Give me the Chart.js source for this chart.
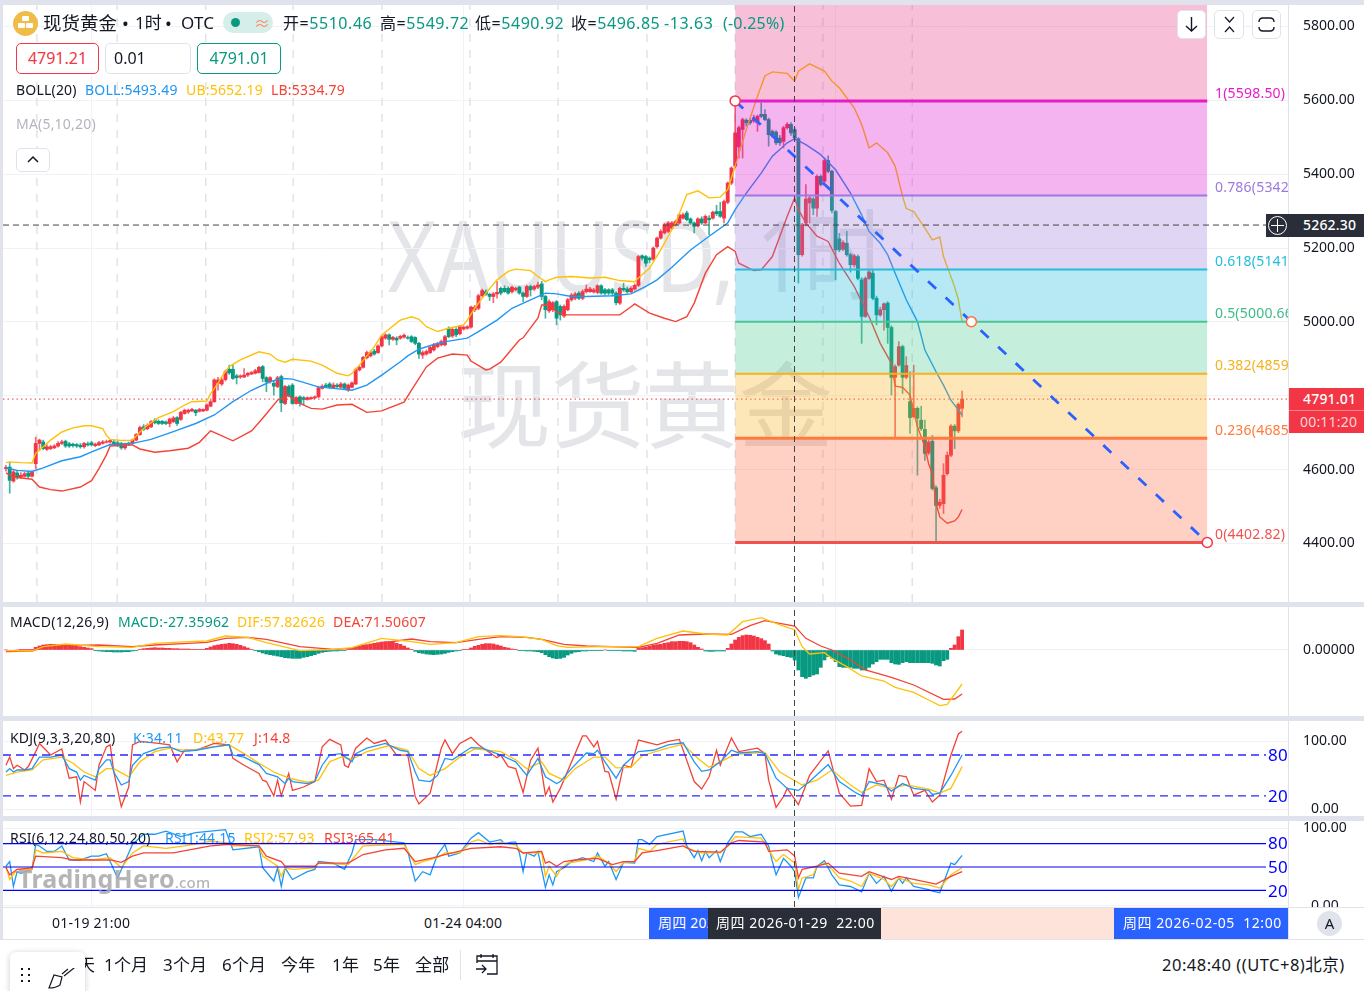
<!DOCTYPE html>
<html>
<head>
<meta charset="utf-8">
<script src="https://cdn.jsdelivr.net/npm/chart.js@4/dist/chart.umd.js"></script>
<style>
html, body { margin: 0; padding: 0; background: #fff; width: 1364px; height: 991px; overflow: hidden; font-family: "Noto Sans", "Noto Sans CJK SC", sans-serif; color: #131722; }
canvas { position: absolute; left: 0; z-index: 2; }
.t { position: absolute; white-space: nowrap; line-height: 20px; font-size: 14px; letter-spacing: .2px; z-index: 3; }
.h { font-size: 16px; letter-spacing: .55px; top: 13px; }
.bar { position: absolute; background: #E0E3EB; z-index: 1; }
.box { position: absolute; box-sizing: border-box; z-index: 3; }
.wm { position: absolute; white-space: nowrap; color: #E4E5E9; z-index: 0; line-height: 1; }
.btn { position: absolute; box-sizing: border-box; background: #fff; border: 1px solid #E0E3EB; border-radius: 5px; z-index: 3; }
.fib { width: 73px; overflow: hidden; }
</style>
</head>
<body>
<!-- watermarks sit under the transparent canvases -->
<div class="wm" style="left:388px;top:204px;font-size:99px;transform:scaleX(.835);transform-origin:left top;">XAUUSD, 1时</div>
<div class="wm" style="left:457px;top:358px;font-size:94px;">现货黄金</div>

<div class="bar" style="left:0;top:0;width:1364px;height:5px;"></div>
<div class="bar" style="left:0;top:0;width:3px;height:940px;"></div>
<div class="bar" style="left:0;top:602px;width:1364px;height:5px;"></div>
<div class="bar" style="left:0;top:716px;width:1364px;height:5px;"></div>
<div class="bar" style="left:0;top:816px;width:1364px;height:5px;"></div>
<div class="bar" style="left:0;top:939px;width:1364px;height:1px;"></div>

<canvas id="mainChart" width="1364" height="597" style="top:5px"></canvas>
<canvas id="macdChart" width="1364" height="109" style="top:607px"></canvas>
<canvas id="kdjChart" width="1364" height="95" style="top:721px"></canvas>
<canvas id="rsiChart" width="1364" height="86" style="top:821px"></canvas>

<!-- header -->
<div class="box" style="left:13px;top:11px;width:25px;height:25px;border-radius:50%;background:#F0BC48;"></div>
<div class="box" style="left:22px;top:16px;width:7px;height:5px;background:#fff;border-radius:1px;"></div>
<div class="box" style="left:18px;top:23px;width:7px;height:5px;background:#fff;border-radius:1px;"></div>
<div class="box" style="left:26px;top:23px;width:7px;height:5px;background:#fff;border-radius:1px;"></div>
<div class="t" style="left:43px;top:13px;font-size:18.5px;letter-spacing:0;">现货黄金</div>
<div class="t" style="left:122px;top:13px;font-size:18px;">•</div>
<div class="t" style="left:135px;top:13px;font-size:17px;letter-spacing:0;">1时</div>
<div class="t" style="left:165px;top:13px;font-size:18px;">•</div>
<div class="t" style="left:181px;top:13px;font-size:17px;">OTC</div>
<div class="box" style="left:223px;top:12px;width:50px;height:21px;border-radius:11px;background:#D6EEE9;"></div>
<div class="box" style="left:231px;top:18px;width:9px;height:9px;border-radius:50%;background:#089981;"></div>
<div class="t" style="left:254px;top:13px;font-size:16px;color:#FF8A65;">≈</div>
<div class="t h" style="left:283px;">开=<span style="color:#089981">5510.46</span></div>
<div class="t h" style="left:380px;">高=<span style="color:#089981">5549.72</span></div>
<div class="t h" style="left:475px;">低=<span style="color:#089981">5490.92</span></div>
<div class="t h" style="left:571px;">收=<span style="color:#089981">5496.85</span></div>
<div class="t h" style="left:664px;color:#089981;">-13.63</div>
<div class="t h" style="left:723px;color:#089981;letter-spacing:.2px;">(-0.25%)</div>

<div class="btn" style="left:16px;top:43px;width:83px;height:31px;border-color:#F23645;text-align:center;line-height:29px;font-size:16px;color:#F23645;">4791.21</div>
<div class="btn" style="left:105px;top:43px;width:86px;height:31px;padding-left:8px;line-height:29px;font-size:16px;">0.01</div>
<div class="btn" style="left:197px;top:43px;width:84px;height:31px;border-color:#089981;text-align:center;line-height:29px;font-size:16px;color:#089981;">4791.01</div>

<div class="t" style="left:16px;top:80px;">BOLL(20)</div>
<div class="t" style="left:85px;top:80px;color:#2196F3;">BOLL:5493.49</div>
<div class="t" style="left:186px;top:80px;color:#FFC107;">UB:5652.19</div>
<div class="t" style="left:271px;top:80px;color:#F44336;">LB:5334.79</div>
<div class="t" style="left:16px;top:114px;color:#B2B5BE;">MA(5,10,20)</div>
<div class="btn" style="left:16px;top:148px;width:34px;height:24px;"></div>
<svg class="box" style="left:27px;top:155px;" width="12" height="9"><path d="M1 7 L6 2 L11 7" fill="none" stroke="#131722" stroke-width="1.5"/></svg>

<div class="btn" style="left:1177px;top:10px;width:29px;height:29px;"></div>
<svg class="box" style="left:1184px;top:16px;" width="15" height="17"><path d="M7.5 1 V15 M2 10 L7.5 15 L13 10" fill="none" stroke="#131722" stroke-width="1.4"/></svg>
<div class="btn" style="left:1214px;top:10px;width:30px;height:29px;"></div>
<svg class="box" style="left:1222px;top:16px;" width="15" height="17"><path d="M3 1 L7.5 6 L12 1 M3 16 L7.5 11 L12 16" fill="none" stroke="#131722" stroke-width="1.2"/></svg>
<div class="btn" style="left:1252px;top:10px;width:29px;height:29px;"></div>
<svg class="box" style="left:1258px;top:17px;" width="17" height="15"><path d="M1 5 Q1 1 5 1 H12 Q16 1 16 5 M1 10 Q1 14 5 14 H12 Q16 14 16 10" fill="none" stroke="#131722" stroke-width="1.4"/></svg>

<!-- fibonacci labels -->
<div class="t fib" style="left:1215px;top:83px;color:#E61CC8;">1(5598.50)</div>
<div class="t fib" style="left:1215px;top:177px;color:#9C78E0;">0.786(5342.62)</div>
<div class="t fib" style="left:1215px;top:251px;color:#22BEDC;">0.618(5141.87)</div>
<div class="t fib" style="left:1215px;top:303px;color:#3DBB8A;">0.5(5000.66)</div>
<div class="t fib" style="left:1215px;top:355px;color:#F5B21E;">0.382(4859.56)</div>
<div class="t fib" style="left:1215px;top:420px;color:#FF7A3C;">0.236(4685.00)</div>
<div class="t fib" style="left:1215px;top:524px;color:#EF5350;">0(4402.82)</div>

<!-- price tags -->
<div class="box" style="left:1266px;top:214px;width:98px;height:23px;background:#2A2E39;"></div>
<div class="box" style="left:1268px;top:216px;width:19px;height:19px;border:1px solid #fff;border-radius:50%;"></div>
<svg class="box" style="left:1271px;top:219px;" width="13" height="13"><path d="M0 6.5 H13 M6.5 0 V13" stroke="#fff" stroke-width="1"/></svg>
<div class="t" style="left:1303px;top:215px;color:#fff;font-weight:500;">5262.30</div>
<div class="box" style="left:1289px;top:388px;width:75px;height:45px;background:#F23645;"></div>
<div class="box" style="left:1289px;top:410px;width:75px;height:1px;background:#F8838D;"></div>
<div class="t" style="left:1303px;top:389px;color:#fff;font-weight:500;">4791.01</div>
<div class="t" style="left:1300px;top:412px;color:#FBD5D8;">00:11:20</div>

<!-- indicator titles -->
<div class="t" style="left:10px;top:612px;">MACD(12,26,9)</div>
<div class="t" style="left:118px;top:612px;color:#089981;">MACD:-27.35962</div>
<div class="t" style="left:237px;top:612px;color:#FFC107;">DIF:57.82626</div>
<div class="t" style="left:333px;top:612px;color:#F44336;">DEA:71.50607</div>
<div class="t" style="left:10px;top:728px;">KDJ(9,3,3,20,80)</div>
<div class="t" style="left:133px;top:728px;color:#2196F3;">K:34.11</div>
<div class="t" style="left:193px;top:728px;color:#FFC107;">D:43.77</div>
<div class="t" style="left:254px;top:728px;color:#F44336;">J:14.8</div>
<div class="t" style="left:10px;top:828px;">RSI(6,12,24,80,50,20)</div>
<div class="t" style="left:165px;top:828px;color:#2196F3;">RSI1:44.15</div>
<div class="t" style="left:244px;top:828px;color:#FFC107;">RSI2:57.93</div>
<div class="t" style="left:324px;top:828px;color:#F44336;">RSI3:65.41</div>

<div class="t" style="left:1268px;top:745px;font-size:17px;color:#0000FF;">80</div>
<div class="t" style="left:1268px;top:786px;font-size:17px;color:#0000FF;">20</div>
<div class="t" style="left:1268px;top:833px;font-size:17px;color:#0000FF;">80</div>
<div class="t" style="left:1268px;top:857px;font-size:17px;color:#0000FF;">50</div>
<div class="t" style="left:1268px;top:881px;font-size:17px;color:#0000FF;">20</div>

<div class="t" style="left:18px;top:868px;font-size:25px;font-weight:700;color:#A8A8A8;opacity:.85;">TradingHero<span style="font-size:15px;font-weight:500;">.com</span></div>

<!-- time strip -->
<div class="box" style="left:0;top:907px;width:1364px;height:32px;background:#fff;border-top:1px solid #E0E3EB;z-index:2;"></div>
<div class="box" style="left:0;top:907px;width:3px;height:32px;background:#E0E3EB;"></div>
<div class="box" style="left:1288px;top:907px;width:1px;height:32px;background:#E0E3EB;"></div>
<div id="timeLabels"></div>
<div class="box" style="left:649px;top:908px;width:60px;height:31px;background:#2962FF;overflow:hidden;"><div class="t" style="left:9px;top:5px;color:#fff;">周四 2026-01-23  12:00</div></div>
<div class="box" style="left:881px;top:908px;width:233px;height:31px;background:#FDE3DA;"></div>
<div class="box" style="left:1114px;top:908px;width:174px;height:31px;background:#2962FF;"><div class="t" style="left:9px;top:5px;color:#fff;white-space:pre;letter-spacing:.55px;">周四 2026-02-05  12:00</div></div>
<div class="box" style="left:708px;top:908px;width:173px;height:31px;background:#2A2E39;"><div class="t" style="left:8px;top:5px;color:#fff;white-space:pre;letter-spacing:.55px;">周四 2026-01-29  22:00</div></div>
<div class="box" style="left:1317px;top:911px;width:25px;height:25px;border-radius:50%;background:#E0E3EB;text-align:center;line-height:25px;font-size:15px;">A</div>

<!-- bottom toolbar -->
<div class="t" style="left:78px;top:955px;font-size:17px;">天</div>
<div class="t" style="left:104px;top:955px;font-size:17px;">1个月</div>
<div class="t" style="left:163px;top:955px;font-size:17px;">3个月</div>
<div class="t" style="left:222px;top:955px;font-size:17px;">6个月</div>
<div class="t" style="left:281px;top:955px;font-size:17px;">今年</div>
<div class="t" style="left:332px;top:955px;font-size:17px;">1年</div>
<div class="t" style="left:373px;top:955px;font-size:17px;">5年</div>
<div class="t" style="left:415px;top:955px;font-size:17px;">全部</div>
<div class="box" style="left:460px;top:950px;width:1px;height:30px;background:#E0E3EB;"></div>
<svg class="box" style="left:475px;top:953px;" width="26" height="24"><path d="M6 1 V5 M18 1 V5 M2 10 V3 H22 V21 H12 M2 8 H22 M1 16 H11 M7 12 L11 16 L7 20" fill="none" stroke="#131722" stroke-width="1.3"/></svg>
<div class="t" style="left:1162px;top:955px;font-size:16.5px;letter-spacing:.5px;">20:48:40 ((UTC+8)北京)</div>
<div class="box" style="left:10px;top:952px;width:75px;height:45px;background:#fff;border-radius:6px;box-shadow:0 1px 6px rgba(0,0,0,.2);"></div>
<svg class="box" style="left:18px;top:968px;z-index:4;" width="62" height="23"><path d="M3 1 h2 M10 1 h2 M3 7 h2 M10 7 h2 M3 13 h2 M10 13 h2" stroke="#131722" stroke-width="2"/><path d="M31 20 L36 7 L44 9 L42 17 Q38 20 31 20 Z M44 6 L50 1 M46 8 L61 -4" fill="none" stroke="#131722" stroke-width="1.2"/></svg>

<script>
// candle values, one per bar, bar 1 is the left-most one
const opens = [4603,4607,4569,4591,4580,4582,4591,4582,4616,4671,4675,4655,4657,4659,4664,4671,4677,4670,4669,4668,4666,4662,4670,4673,4665,4667,4671,4674,4675,4675,
  4673,4671,4659,4672,4671,4680,4695,4716,4711,4716,4734,4731,4731,4729,4725,4730,4741,4736,4752,4756,4759,4761,4758,4759,4761,4772,4784,4834,4832,4844,
  4872,4872,4854,4851,4851,4856,4859,4861,4863,4879,4849,4838,4834,4825,4852,4779,4825,4829,4779,4797,4795,4790,4792,4794,4797,4820,4829,4832,4822,4829,
  4823,4832,4815,4823,4832,4870,4877,4903,4908,4921,4917,4935,4956,4965,4953,4956,4956,4959,4958,4960,4958,4942,4910,4913,4917,4924,4933,4938,4938,4983,
  4962,4980,4968,4981,4983,4986,5033,5037,5071,5082,5075,5069,5076,5091,5091,5091,5082,5087,5094,5078,5069,5096,5089,5094,5103,5069,5030,5033,5055,5042,
  5016,5033,5060,5064,5078,5064,5082,5082,5081,5080,5098,5087,5087,5087,5078,5051,5091,5089,5082,5089,5099,5179,5177,5173,5170,5204,5227,5241,5245,5254,
  5263,5268,5281,5295,5279,5268,5260,5279,5268,5281,5281,5299,5299,5281,5324,5376,5422,5474,5521,5546,5546,5544,5539,5562,5562,5548,5516,5514,5498,5489,
  5526,5535,5521,5496,5182,5268,5322,5333,5308,5394,5381,5437,5408,5299,5225,5197,5213,5182,5155,5177,5114,5015,5118,5132,5064,5019,5033,5051,4985,4850,
  4883,4933,4850,4784,4743,4766,4734,4709,4645,4677,4551,4503,4508,4589,4639,4718,4705,4766];
const highs = [4612,4620,4598,4597,4592,4593,4596,4597,4688,4683,4680,4668,4666,4668,4676,4680,4680,4674,4672,4671,4671,4674,4675,4677,4672,4677,4679,4680,4681,4680,
  4677,4674,4672,4675,4683,4698,4718,4722,4724,4733,4738,4735,4733,4732,4740,4744,4744,4758,4764,4764,4766,4763,4766,4765,4778,4788,4846,4850,4848,4870,
  4883,4885,4858,4857,4874,4863,4866,4872,4880,4882,4852,4852,4840,4853,4856,4828,4829,4833,4798,4800,4798,4797,4797,4800,4826,4830,4834,4836,4835,4833,
  4836,4835,4832,4838,4875,4881,4907,4921,4922,4926,4938,4964,4968,4968,4961,4960,4964,4968,4962,4963,4960,4945,4922,4924,4935,4942,4945,4951,4964,4987,
  4984,4985,4990,4989,4990,5043,5045,5075,5089,5087,5078,5080,5110,5095,5098,5095,5097,5094,5097,5081,5099,5100,5099,5108,5110,5072,5060,5055,5058,5046,
  5046,5064,5078,5080,5082,5087,5100,5094,5091,5101,5101,5091,5090,5091,5082,5094,5105,5094,5095,5103,5180,5182,5180,5176,5203,5230,5250,5267,5272,5272,
  5276,5293,5295,5300,5282,5271,5282,5285,5290,5288,5300,5316,5324,5330,5379,5420,5593,5530,5552,5550,5552,5560,5560,5593,5575,5552,5520,5518,5505,5530,
  5540,5540,5526,5499,5267,5372,5340,5337,5398,5398,5444,5450,5411,5302,5240,5220,5245,5186,5183,5181,5120,5122,5140,5140,5070,5040,5052,5055,4990,4884,
  4947,4937,4906,4865,4883,4770,4772,4734,4680,4693,4556,4520,4616,4648,4722,4722,4781,4813];
const lows = [4596,4536,4566,4574,4576,4580,4578,4580,4602,4652,4654,4652,4654,4657,4661,4668,4660,4660,4661,4660,4658,4658,4664,4664,4662,4665,4669,4672,4672,4666,
  4662,4655,4655,4665,4669,4678,4693,4706,4708,4714,4724,4722,4722,4722,4716,4727,4720,4733,4750,4752,4757,4746,4756,4757,4759,4770,4782,4815,4828,4840,
  4858,4844,4832,4847,4849,4852,4857,4859,4861,4838,4811,4834,4802,4822,4757,4776,4797,4777,4777,4772,4775,4788,4790,4792,4795,4818,4822,4820,4820,4822,
  4820,4817,4812,4821,4830,4867,4875,4900,4905,4910,4915,4932,4953,4938,4950,4938,4953,4956,4953,4944,4938,4901,4901,4910,4914,4921,4930,4935,4935,4957,
  4958,4960,4965,4978,4980,4983,5028,5033,5068,5072,5058,5052,5064,5073,5080,5075,5078,5084,5075,5055,5066,5070,5085,5090,5060,5010,5026,5028,4992,5005,
  5012,5030,5056,5060,5060,5060,5078,5080,5078,5076,5075,5074,5074,5070,5046,5047,5083,5078,5079,5086,5096,5168,5150,5160,5166,5200,5224,5238,5242,5250,
  5260,5265,5278,5274,5264,5241,5257,5264,5265,5236,5278,5288,5283,5268,5320,5372,5418,5444,5444,5530,5535,5540,5516,5553,5545,5476,5500,5480,5478,5471,
  5522,5505,5490,5105,5178,5260,5268,5290,5286,5368,5378,5404,5295,5114,5190,5193,5178,5135,5150,5114,4942,5012,5115,5060,4992,5015,4978,4942,4802,4688,
  4880,4806,4846,4698,4740,4585,4706,4625,4640,4545,4404,4495,4481,4585,4635,4657,4700,4743];
const closes = [4606,4571,4594,4578,4585,4589,4582,4594,4671,4680,4657,4662,4662,4664,4671,4675,4664,4664,4665,4664,4662,4671,4667,4667,4669,4673,4675,4676,4679,4669,
  4665,4659,4668,4668,4680,4695,4714,4709,4720,4730,4727,4725,4725,4725,4737,4740,4725,4755,4761,4761,4763,4754,4763,4763,4775,4784,4843,4843,4843,4865,
  4862,4847,4849,4854,4856,4861,4863,4868,4877,4847,4838,4849,4826,4849,4781,4825,4800,4779,4795,4779,4790,4795,4795,4797,4822,4826,4825,4823,4829,4825,
  4832,4820,4829,4835,4871,4877,4904,4917,4917,4913,4935,4960,4965,4953,4958,4951,4961,4964,4956,4947,4942,4913,4917,4920,4931,4938,4942,4947,4960,4960,
  4980,4965,4987,4986,4987,5040,5040,5071,5085,5075,5069,5076,5080,5078,5082,5078,5094,5091,5078,5069,5096,5087,5096,5100,5069,5033,5055,5052,5010,5019,
  5042,5060,5073,5076,5064,5082,5089,5089,5087,5098,5078,5078,5078,5078,5052,5091,5087,5082,5091,5099,5177,5173,5159,5168,5200,5227,5245,5263,5268,5268,
  5272,5290,5290,5277,5268,5259,5279,5268,5286,5277,5297,5293,5286,5326,5376,5417,5512,5526,5548,5539,5539,5550,5557,5557,5548,5507,5507,5485,5485,5526,
  5535,5512,5498,5182,5263,5333,5336,5308,5394,5372,5437,5408,5302,5195,5195,5215,5182,5155,5179,5118,5015,5118,5135,5064,5019,5033,5049,4985,4850,4879,
  4933,4850,4882,4741,4766,4739,4711,4644,4675,4549,4503,4512,4585,4639,4718,4705,4777,4791.01];

// BOLL bands, read at the bends of each curve
const ubIdx = [1,2,5,8,9,11,13,16,19,22,24,27,28,29,32,35,37,39,42,46,49,51,55,56,58,59,61,64,69,72,74,76,78,83,86,90,93,94,96,100,102,107,110,112,114,117,120,124,125,127,130,133,136,138,142,144,146,147,149,153,158,162,166,170,171,174,177,179,181,184,187,190,193,195,197,200,203,205,207,211,213,214,217,221,223,225,229,231,233,235,238,240,242,243,245,248,250,252,253,256,257,258];
const ubVal = [4619,4621,4619,4618,4644,4662,4680,4702,4713,4719,4719,4711,4693,4682,4679,4680,4702,4720,4741,4757,4775,4784,4786,4806,4834,4852,4879,4897,4919,4913,4897,4891,4899,4894,4883,4861,4854,4861,4883,4933,4965,5005,5014,5007,4987,4974,4983,4992,5005,5037,5078,5114,5137,5143,5139,5123,5109,5114,5121,5123,5119,5121,5112,5109,5119,5146,5195,5232,5268,5345,5355,5336,5338,5358,5422,5521,5611,5666,5677,5673,5652,5679,5699,5679,5652,5634,5580,5535,5471,5485,5458,5422,5340,5307,5299,5254,5222,5230,5177,5095,5060,5000];
const bollIdx = [1,4,8,11,16,21,25,29,35,40,46,52,57,62,67,72,75,78,85,89,94,98,102,107,109,112,116,120,125,128,133,137,142,146,149,153,157,164,169,173,176,180,185,190,195,197,200,204,207,211,213,216,220,224,228,231,233,236,238,240,243,246,248,251,253,255,258];
const bollVal = [4605,4598,4595,4605,4624,4635,4652,4668,4671,4682,4703,4725,4748,4784,4815,4838,4847,4845,4824,4820,4815,4829,4856,4892,4908,4926,4939,4948,4956,4974,5005,5037,5060,5078,5076,5069,5069,5071,5076,5096,5114,5148,5195,5232,5268,5304,5349,5403,5449,5485,5496,5480,5453,5412,5349,5290,5245,5213,5182,5132,5060,5001,4924,4865,4829,4788,4748];
const lbIdx = [1,3,8,10,13,16,21,24,26,28,29,35,37,41,45,50,53,56,58,62,67,70,74,77,79,83,86,90,94,98,102,104,108,110,114,117,121,125,126,130,131,134,139,140,144,145,147,149,151,157,166,169,170,174,178,181,184,186,189,192,195,197,198,202,204,207,211,213,214,216,219,222,225,229,233,236,239,240,242,244,246,248,249,250,251,252,254,256,257,258];
const lbVal = [4591,4580,4574,4553,4546,4542,4553,4570,4603,4640,4664,4667,4656,4647,4651,4658,4674,4705,4696,4678,4705,4739,4788,4801,4784,4766,4764,4775,4777,4755,4759,4767,4783,4815,4878,4902,4913,4910,4894,4870,4872,4891,4951,4957,5011,5046,5046,5027,5019,5019,5019,5041,5049,5024,5010,5001,5014,5051,5132,5182,5204,5191,5159,5139,5141,5177,5286,5336,5304,5268,5232,5218,5159,5096,5014,4942,4888,4826,4823,4802,4716,4662,4616,4589,4508,4472,4455,4461,4472,4492];

// MACD histogram, one per bar
const macdHist = [0,-1,-1,0,1,1,1,2,8,12,15,16,17,17,16,16,15,14,14,13,10,8,6,4,-1,-3,-4,-5,-5,-6,-6,-6,-5,-5,-3,-2,
  2,4,5,6,7,6,6,5,5,4,4,3,3,3,2,2,1,1,5,9,13,15,17,18,20,19,17,14,10,6,2,-1,-5,-9,-12,-14,-16,-18,-20,-23,-24,-25,-25,-25,-22,-20,-17,-14,-10,
  -7,-5,-4,-3,-3,-2,-2,1,4,9,13,15,16,18,20,22,24,25,25,24,20,17,12,6,1,-4,-8,-10,-12,-13,-14,-13,-12,-10,-7,-5,-3,-1,1,2,6,11,14,17,19,19,18,15,12,
  8,6,3,1,-2,-2,-3,-3,-4,-5,-8,-14,-20,-24,-26,-25,-22,-15,-10,-6,-5,-3,-3,-2,-2,-1,-1,0,-1,-2,-1,-2,-3,-3,-3,-4,5,7,9,11,14,16,17,20,22,25,25,26,26,25,22,15,8,3,
  -3,-4,-4,-3,-3,-3,5,18,30,38,43,45,44,42,38,34,28,18,-3,-12,-15,-17,-20,-22,-30,-60,-80,-85,-80,-75,-72,-52,-30,-20,-25,-35,-50,-52,-52,-52,-55,-55,-60,-60,-52,-42,-35,-28,-28,-28,-38,-42,-43,-38,-35,-38,-38,-38,-38,-38,-38,-40,-45,-48,-32,-28,5,15,40,60];
const difIdx = [1,8,11,17,26,35,41,50,55,60,66,71,80,89,94,102,110,115,122,128,134,139,145,149,152,161,171,176,183,189,195,199,204,208,213,215,217,221,223,227,231,237,240,245,249,252,254,258];
const difVal = [-2,-3,10,18,10,8,20,25,27,42,38,22,-2,2,7,35,25,17,22,40,43,40,32,13,8,10,10,35,57,48,45,85,97,80,60,10,-12,-8,-25,-50,-78,-93,-112,-127,-150,-167,-163,-102];
const deaIdx = [1,8,11,17,26,35,41,50,55,60,66,71,80,89,94,101,110,115,122,128,134,141,145,151,157,171,176,182,189,196,201,205,213,216,220,223,228,232,239,245,253,256,258];
const deaVal = [-5,-3,7,13,15,10,15,20,23,35,38,32,10,2,5,20,33,25,22,32,40,38,32,17,12,8,20,45,48,47,73,88,72,35,12,0,-30,-60,-82,-105,-148,-147,-132];

// KDJ
const kIdx = [1,2,3,4,6,8,10,13,16,18,20,21,22,25,26,28,29,30,32,34,35,38,42,45,48,52,57,61,62,65,69,71,74,76,77,78,82,84,86,88,91,94,95,98,103,107,109,111,112,115,117,119,121,126,129,134,138,141,144,146,149,150,153,157,159,160,162,165,167,171,175,179,183,186,188,190,193,196,198,203,205,208,211,214,217,222,225,229,231,233,237,239,242,245,249,250,252,255,258];
const kVal = [55,60,55,58,58,60,77,77,80,60,55,43,50,43,60,73,73,55,36,41,65,82,90,92,85,87,92,95,80,77,66,53,48,38,46,41,38,41,65,80,82,70,82,90,97,87,85,55,43,41,50,75,73,91,90,80,70,50,75,48,38,41,60,83,82,87,70,46,65,85,87,95,98,70,56,58,70,87,83,85,82,46,31,28,41,66,41,26,20,41,36,27,38,31,28,22,24,50,80];
const dIdx = [1,4,8,11,16,19,22,25,28,30,34,37,41,45,50,55,61,65,69,73,77,82,85,88,91,94,98,104,109,112,115,119,123,127,134,138,141,145,147,151,154,159,162,165,169,172,178,183,187,190,193,197,205,209,215,219,223,228,231,235,239,243,249,252,255,258];
const dVal = [50,55,58,73,77,68,55,48,60,60,48,70,85,90,86,91,95,82,68,55,46,40,43,70,77,74,85,94,87,60,50,60,77,89,85,73,60,70,53,43,60,77,77,61,62,79,89,96,75,62,70,81,84,55,36,43,58,36,25,36,31,36,30,24,31,63];
const jIdx = [1,2,3,4,6,7,9,10,13,16,18,20,21,22,25,26,28,29,30,32,34,35,37,42,45,47,49,52,57,61,62,65,69,70,71,73,74,75,77,78,81,84,86,88,91,92,93,95,98,100,103,106,109,111,112,115,118,119,121,123,126,128,133,134,136,138,140,142,144,146,147,148,150,156,157,159,160,162,163,165,167,169,171,176,179,182,186,188,190,192,193,196,198,203,205,206,208,210,211,214,217,222,225,228,231,233,235,237,239,241,243,245,248,250,252,255,257,258];
const jVal = [65,77,60,65,58,63,85,97,80,89,46,48,11,41,28,65,92,95,55,4,33,95,100,97,95,70,87,87,97,95,75,65,53,43,41,20,43,20,53,28,33,41,92,103,95,65,62,90,105,97,102,80,80,19,8,24,90,102,82,97,106,95,76,80,63,60,25,72,90,21,33,11,31,108,108,92,100,56,55,15,65,62,102,95,100,103,41,30,48,87,65,105,85,90,82,43,3,19,31,7,50,86,24,5,6,60,41,43,15,50,48,21,28,11,21,80,111,115];

// RSI
const rsi1Idx = [1,2,3,4,5,8,9,10,12,14,16,18,21,24,26,28,29,31,33,35,38,41,44,48,52,56,60,62,69,70,73,74,75,76,78,82,84,85,89,92,94,95,100,108,109,111,113,115,117,119,120,123,126,128,131,134,135,137,138,139,140,141,143,144,146,147,148,149,151,153,156,159,160,162,163,165,167,170,171,172,174,176,183,184,186,187,188,189,190,192,193,195,197,199,201,204,206,207,208,210,212,213,214,216,218,219,221,223,225,228,231,233,235,237,239,241,242,243,245,249,250,252,255,256,258];
const rsi1Val = [51,57,25,44,42,47,79,77,70,70,77,59,59,64,64,67,57,36,57,79,92,92,96,89,94,96,98,72,76,49,32,49,25,49,34,44,47,57,55,47,68,85,85,81,70,32,44,40,66,79,64,68,87,94,82,85,80,82,82,68,44,68,64,70,24,40,27,44,49,57,62,57,68,51,57,34,56,55,85,85,79,89,96,77,62,71,58,70,62,71,57,81,95,95,89,92,77,57,40,61,51,44,11,36,36,51,58,40,27,25,18,42,29,38,19,36,29,36,25,21,19,17,55,53,65];
const rsi2Idx = [1,2,4,8,9,11,16,19,24,29,32,35,38,44,49,56,61,62,69,70,74,75,76,78,84,85,93,97,108,111,113,117,119,123,126,128,131,134,138,140,145,146,147,149,150,152,157,160,163,165,167,170,171,174,176,183,184,188,193,195,197,204,206,208,210,213,214,215,218,219,221,223,225,228,231,233,235,237,239,241,245,249,252,255,258];
const rsi2Val = [51,34,47,47,72,68,70,62,59,62,49,68,77,74,77,83,81,77,77,64,51,38,49,47,49,55,53,77,79,53,57,62,68,68,82,85,79,82,78,68,68,38,51,38,47,55,59,64,55,44,56,57,74,70,79,86,74,68,68,77,89,87,72,57,66,55,21,36,40,51,55,47,36,32,25,42,38,34,25,36,29,27,23,40,49];
const rsi3Idx = [1,2,4,8,9,16,19,29,32,35,38,46,56,61,69,71,75,76,84,85,93,97,103,108,111,116,119,126,134,138,140,145,146,147,149,151,154,160,164,167,170,172,176,183,186,193,196,198,205,206,211,213,214,215,219,222,225,231,233,239,241,245,251,255,258];
const rsi3Val = [49,40,47,49,64,62,59,59,56,64,68,68,77,79,77,64,57,51,51,55,55,66,72,74,57,62,66,74,76,74,68,70,55,57,51,57,59,61,53,57,57,68,71,77,70,69,81,84,82,70,72,64,36,47,51,55,42,38,44,34,38,34,28,38,44];

// Fibonacci drawing
const fibLevels = [5598.50,5342.62,5141.87,5000.66,4859.56,4685.00,4402.82];
const fibLineColors = ['#E61CC8','#9C78E0','#22BEDC','#4CC594','#F5B21E','#FF7A3C','#EF5350'];
const fibLineWidths = [3,2,2,2,2,3,3];
const fibZoneColors = ['rgba(228,45,125,.3)','rgba(215,5,205,.3)','rgba(152,115,215,.3)','rgba(18,182,222,.3)','rgba(65,198,138,.3)','rgba(248,172,18,.3)','rgba(255,98,58,.3)'];
const fibStart = 197;
const fibEnd = 323.9;
const trendIdx = [197,260.5,323.9];
const trendPrice = [5598.50,5000.66,4402.82];
const trendDotColors = ['#F23645','#FF7043','#F23645'];

const priceTicks = [4400,4600,4800,5000,5200,5400,5600,5800];
const priceTickLabels = ['4400.00','4600.00','','5000.00','5200.00','5400.00','5600.00','5800.00'];
const daySeparators = [9.3,30.9,54.7,78.2,102.1,125.7,149.4,173.3,197,220.6,244.6];
const timeTicks = [23.9,123.9,223.9];
const timeLabels = ['01-19 21:00','01-24 04:00',''];
const crossIdx = 212.95;
const crossPrice = 5262.30;
const crossEnd = 339.7;
const lastPrice = 4791.01;

const xMin = 0.2;
const xMax = 345.6;
const UP = '#F23645';
const DOWN = '#089981';
const GRID = '#F1F2F6';

const pairs = (xs, ys) => xs.map((x, i) => ({x: x, y: ys[i]}));
const barIdx = closes.map((c, i) => i + 1);

function line(xs, ys, color, width, order, extra) {
  return Object.assign({
    type: 'line',
    data: pairs(xs, ys),
    borderColor: color,
    borderWidth: width,
    pointRadius: 0,
    fill: false,
    order: order
  }, extra || {});
}

function crossLine(yMin, yMax) {
  return line([crossIdx, crossIdx], [yMin, yMax], '#444', 1, 0, {borderDash: [6, 4]});
}

function makePanel(id, yMin, yMax, ticks, tickText, datasets) {
  return new Chart(document.getElementById(id), {
    type: 'bar',
    data: {datasets: datasets},
    options: {
      responsive: false,
      animation: false,
      events: [],
      layout: {autoPadding: false, padding: {left: 3, right: 0, top: 0, bottom: 0}},
      plugins: {legend: {display: false}, tooltip: {enabled: false}, title: {display: false}},
      scales: {
        x: {
          type: 'linear',
          min: xMin,
          max: xMax,
          offset: false,
          afterBuildTicks: s => { s.ticks = timeTicks.map(v => ({value: v})); },
          afterFit: s => { s.height = 0; s.paddingLeft = 0; s.paddingRight = 0; },
          ticks: {display: false},
          border: {display: false},
          grid: {color: GRID, offset: false, drawTicks: false}
        },
        y: {
          position: 'right',
          min: yMin,
          max: yMax,
          afterBuildTicks: s => { s.ticks = ticks.map(v => ({value: v})); },
          // keep the plot as tall as the canvas, tick labels may overhang
          afterFit: s => { s.width = 76; s.paddingTop = 0; s.paddingBottom = 0; },
          border: {display: true, color: '#E0E3EB'},
          grid: {color: GRID, drawTicks: false},
          ticks: {
            padding: 15,
            color: '#131722',
            font: {family: '"Noto Sans", "Noto Sans CJK SC", sans-serif', size: 14},
            crossAlign: 'center',
            callback: v => tickText[ticks.indexOf(v)]
          }
        }
      }
    }
  });
}

// main panel
const mainMin = 4241.6;
const mainMax = 5858.2;
const mainSets = [];
// fib zones and lines lie over the candles
fibZoneColors.forEach((c, i) => {
  const upper = i === 0 ? mainMax : fibLevels[i - 1];
  mainSets.push(line([fibStart, fibEnd], [upper, upper], 'rgba(0,0,0,0)', 0, 3, {backgroundColor: c, fill: {value: fibLevels[i]}}));
});
fibLevels.forEach((lv, i) => {
  mainSets.push(line([fibStart, fibEnd], [lv, lv], fibLineColors[i], fibLineWidths[i], 2));
});
mainSets.push(line(trendIdx, trendPrice, '#2962FF', 2.8, 1, {borderDash: [11, 13]}));
mainSets.push(line(trendIdx, trendPrice, 'rgba(0,0,0,0)', 0, 0, {
  showLine: false, pointRadius: 5, pointBorderWidth: 1.5, pointBackgroundColor: '#fff', pointBorderColor: trendDotColors
}));
mainSets.push(crossLine(mainMin, mainMax));
mainSets.push(line([xMin, crossEnd], [crossPrice, crossPrice], '#444', 1, 0, {borderDash: [6, 4]}));
mainSets.push(line([xMin, xMax], [lastPrice, lastPrice], UP, 1, 4, {borderDash: [1.5, 3]}));
mainSets.push(line(ubIdx, ubVal, '#FFC107', 1.4, 5));
mainSets.push(line(bollIdx, bollVal, '#2196F3', 1.4, 5));
mainSets.push(line(lbIdx, lbVal, '#F44336', 1.4, 5));
mainSets.push({
  type: 'bar',
  data: barIdx.map((x, i) => ({x: x, y: [opens[i], closes[i]]})),
  backgroundColor: closes.map((c, i) => c >= opens[i] ? UP : DOWN),
  barThickness: 3.2,
  grouped: false,
  order: 6
});
mainSets.push({
  type: 'bar',
  data: barIdx.map((x, i) => ({x: x, y: [lows[i], highs[i]]})),
  backgroundColor: closes.map((c, i) => c >= opens[i] ? 'rgba(242,54,69,.75)' : 'rgba(8,153,129,.75)'),
  barThickness: 1,
  grouped: false,
  order: 7
});
// day separators: one dashed run with gaps between the days
const dayPoints = [];
daySeparators.forEach(x => {
  dayPoints.push({x: x, y: mainMin}, {x: x, y: mainMax}, {x: x, y: null});
});
mainSets.push({type: 'line', data: dayPoints, borderColor: '#E0E3EB', borderWidth: 1.5, borderDash: [8, 8], pointRadius: 0, fill: false, spanGaps: false, order: 9});

const mainChart = makePanel('mainChart', mainMin, mainMax, priceTicks, priceTickLabels, mainSets);

// MACD panel
makePanel('macdChart', -198, 129, [0], ['0.00000'], [
  crossLine(-198, 129),
  line(difIdx, difVal, '#FFC107', 1.3, 1),
  line(deaIdx, deaVal, '#F44336', 1.3, 1),
  {
    type: 'bar',
    data: pairs(barIdx, macdHist),
    backgroundColor: macdHist.map(v => v >= 0 ? UP : DOWN),
    barThickness: 3.2,
    grouped: false,
    order: 2
  }
]);

// KDJ panel
makePanel('kdjChart', -9.6, 130, [0, 100], ['0.00', '100.00'], [
  crossLine(-9.6, 130),
  line([xMin, 339.7], [80, 80], '#2A2AFF', 1.4, 1, {borderDash: [8, 5]}),
  line([xMin, 339.7], [20, 20], '#2A2AFF', 1.4, 1, {borderDash: [8, 5]}),
  line(kIdx, kVal, '#2196F3', 1.3, 2),
  line(dIdx, dVal, '#FFC107', 1.3, 2),
  line(jIdx, jVal, '#F44336', 1.3, 2)
]);

// RSI panel
makePanel('rsiChart', -1.3, 109, [0, 100], ['0.00', '100.00'], [
  crossLine(-1.3, 109),
  line([xMin, 339.7], [80, 80], '#0000FF', 1.2, 1),
  line([xMin, 339.7], [50, 50], '#0000FF', 1.2, 1),
  line([xMin, 339.7], [20, 20], '#0000FF', 1.2, 1),
  line(rsi3Idx, rsi3Val, '#F44336', 1.3, 2),
  line(rsi2Idx, rsi2Val, '#FFC107', 1.3, 2),
  line(rsi1Idx, rsi1Val, '#2196F3', 1.3, 2)
]);

// time labels follow the x scale
const holder = document.getElementById('timeLabels');
timeLabels.forEach((txt, i) => {
  if (!txt) return;
  const el = document.createElement('div');
  el.className = 't';
  el.style.top = '913px';
  el.style.left = mainChart.scales.x.getPixelForValue(timeTicks[i]) + 'px';
  el.style.transform = 'translateX(-50%)';
  el.textContent = txt;
  holder.appendChild(el);
});
</script>
</body>
</html>
